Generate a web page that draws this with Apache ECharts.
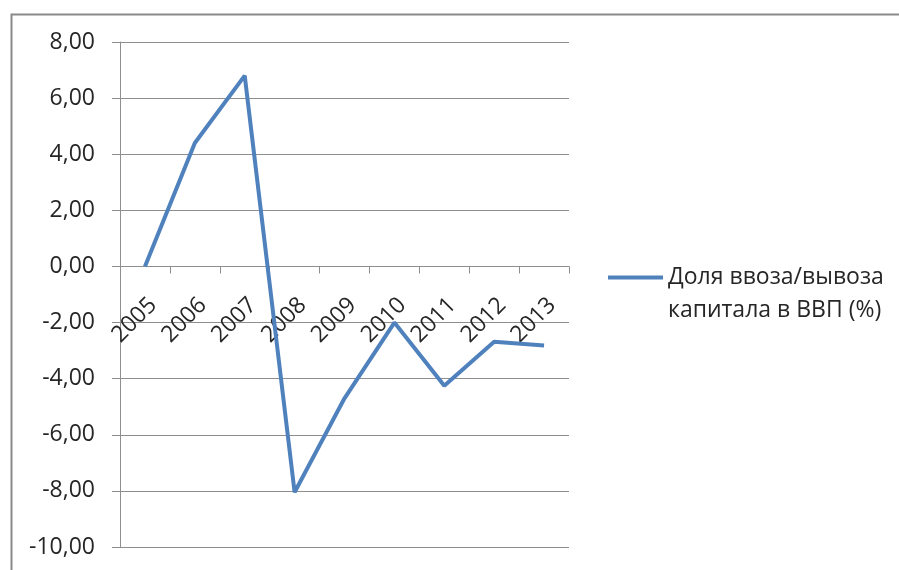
<!DOCTYPE html>
<html>
<head>
<meta charset="utf-8">
<script src="https://cdn.jsdelivr.net/npm/echarts@6/dist/echarts.min.js"></script>
<style>
  html, body { margin: 0; padding: 0; background: #ffffff; }
  #chart { width: 899px; height: 570px; }
</style>
</head>
<body>
<div id="chart"></div>
<script>
// Years on the category axis
const years = ['2005', '2006', '2007', '2008', '2009', '2010', '2011', '2012', '2013'];
// Capital inflow/outflow as a share of GDP, %
const capitalShare = [0, 4.4, 6.8, -8.05, -4.7, -2.0, -4.25, -2.68, -2.82];
// Value axis range and step
const yMin = -10;
const yMax = 8;
const yStep = 2;
const seriesName = 'Доля ввоза/вывоза\nкапитала в ВВП (%)';

const FONT = '"Open Sans", "Noto Sans", sans-serif';
const GRID_GRAY = '#8e8e8e';
const TEXT = '#262626';

const W = 899, H = 570;
const GRID = { left: 120, right: 330, top: 42, bottom: 23 };
// Category axis sits on the zero line: shift it up from the bottom edge of the grid
const plotH = H - GRID.top - GRID.bottom;
const zeroFromBottom = plotH * (0 - yMin) / (yMax - yMin);

const chart = echarts.init(document.getElementById('chart'), null, { renderer: 'canvas', width: W, height: H });

chart.setOption({
  backgroundColor: '#ffffff',
  animation: false,
  textStyle: { fontFamily: FONT },
  graphic: [
    {
      // chart-area frame
      type: 'rect',
      left: 9, top: 12,
      shape: { width: 1200, height: 1200 },
      style: { fill: 'none', stroke: '#8a8a8a', lineWidth: 2 },
      silent: true
    }
  ],
  grid: Object.assign({ containLabel: false, outerBoundsMode: 'none' }, GRID),
  legend: {
    left: 608,
    top: 261,
    padding: 0,
    // bar at the top of a taller box, so it lines up with the first text line
    icon: 'path://M0,0H55V4H0Z M0,36.95H0.01V37H0Z',
    itemWidth: 55,
    itemHeight: 37,
    itemGap: 5,
    itemStyle: { borderWidth: 0 },
    textStyle: {
      fontFamily: FONT,
      fontSize: 23,
      color: TEXT,
      lineHeight: 33
    },
    data: [seriesName]
  },
  xAxis: {
    type: 'category',
    data: years,
    boundaryGap: true,
    position: 'bottom',
    offset: -zeroFromBottom,
    axisLine: { show: true, onZero: false, lineStyle: { color: GRID_GRAY, width: 1 } },
    axisTick: { show: true, length: 7, alignWithLabel: false, lineStyle: { color: GRID_GRAY } },
    axisLabel: {
      interval: 0,
      rotate: 45,
      margin: 27,
      verticalAlign: 'top',
      fontFamily: FONT,
      fontSize: 23,
      color: TEXT
    },
    splitLine: { show: false }
  },
  yAxis: {
    type: 'value',
    min: yMin,
    max: yMax,
    interval: yStep,
    axisLine: { show: true, lineStyle: { color: GRID_GRAY, width: 1 } },
    axisTick: { show: true, length: 8, lineStyle: { color: GRID_GRAY } },
    axisLabel: {
      margin: 25,
      fontFamily: FONT,
      fontSize: 23,
      color: TEXT,
      formatter: v => v.toFixed(2).replace('.', ',')
    },
    splitLine: { show: true, lineStyle: { color: GRID_GRAY, width: 1 } }
  },
  series: [
    {
      name: seriesName,
      type: 'line',
      data: capitalShare,
      showSymbol: false,
      symbol: 'none',
      smooth: false,
      lineStyle: { color: '#4f81bd', width: 4 },
      itemStyle: { color: '#4f81bd' }
    }
  ]
});
</script>
</body>
</html>
